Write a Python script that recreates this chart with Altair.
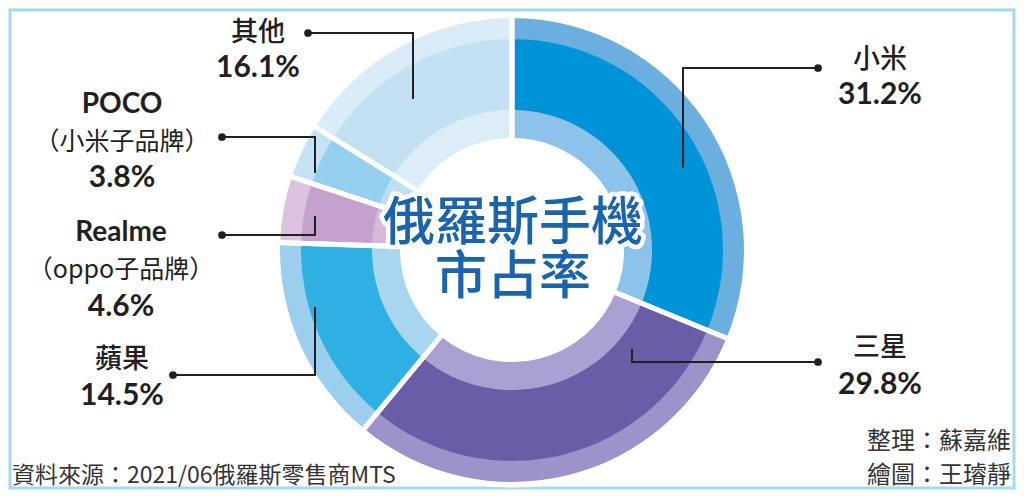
import altair as alt
import pandas as pd

# ---------------- data ----------------
brands = ["小米", "三星", "蘋果", "Realme", "POCO", "其他"]
shares = [31.2, 29.8, 14.5, 4.6, 3.8, 16.1]
name_lines = ["小米", "三星", "蘋果", "Realme", "POCO", "其他"]
sub_lines = ["", "", "", "（oppo子品牌）", "（小米子品牌）", ""]
title_lines = ["俄羅斯手機", "市占率"]
source_text = "資料來源：2021/06俄羅斯零售商MTS"
credit_lines = ["整理：蘇嘉維", "繪圖：王璿靜"]

# ---------------- styles ----------------
outer_colors = ["#6aafe0", "#9d92c9", "#9ccfee", "#dcc4e1", "#c4e4f5", "#daecf8"]
main_colors = ["#0093d7", "#6a5ca7", "#2eb0e3", "#c4a2cd", "#95d0f1", "#c3e1f3"]
inner_colors = ["#8dc3ea", "#aaa0d1", "#a8d6f0", "#d5b9db", "#bde0f4", "#dcedf8"]
INK = "#231f20"
TITLE_BLUE = "#1a64ae"
CJK = "Noto Sans CJK TC"
LAT = "Lato"

# ---------------- layout (pixel positions of annotations) ----------------
CX, CY = 502, 240
label_layout = {
    # brand: (text x, name y, sub y, pct y, dot x, dot y, elbow x, end y)
    "小米":   (870, 50, None, 85, 808, 58, 673, 157),
    "三星":   (870, 338, None, 375, 808, 352, 622, 340),
    "蘋果":   (112, 350, None, 386, 163, 365, 305, 298),
    "Realme": (111, 223, 260, 297, 212, 225, 305, 207),
    "POCO":   (112, 95, 132, 168, 212, 127, 305, 162),
    "其他":   (248, 23, None, 58, 298, 23, 403, 88),
}

df = pd.DataFrame({"brand": brands, "share": shares, "order": list(range(len(brands)))})

theta = alt.Theta("share:Q", stack=True)
order = alt.Order("order:Q", sort="ascending")


def ring(colors, r_out, r_in):
    return alt.Chart(df).mark_arc(radius=r_out, radius2=r_in).encode(
        theta=theta,
        order=order,
        color=alt.Color("brand:N", scale=alt.Scale(domain=brands, range=colors), legend=None),
        x=alt.value(CX),
        y=alt.value(CY),
    )


rings = alt.layer(
    ring(outer_colors, 232, 210.5),
    ring(main_colors, 211, 139.5),
    ring(inner_colors, 140, 112),
).resolve_scale(color="independent")

gaps = alt.Chart(df).mark_arc(
    radius=235, radius2=109, fillOpacity=0, stroke="white", strokeWidth=5
).encode(theta=theta, order=order, x=alt.value(CX), y=alt.value(CY))

# ---------------- labels ----------------
rows = []
segs = []
dots = []
for b, s, nm, sub in zip(brands, shares, name_lines, sub_lines):
    tx, ny, sy, py, dx, dy, ex, ey = label_layout[b]
    kind = "cjk" if all(ord(c) > 255 for c in nm) else "lat"
    rows.append({"t": nm, "x": tx, "y": ny, "kind": kind})
    if sub:
        rows.append({"t": sub, "x": tx, "y": sy, "kind": "sub"})
    rows.append({"t": f"{s:.1f}%", "x": tx, "y": py, "kind": "pct"})
    segs.append({"x": dx, "x2": ex, "y": dy, "y2": dy})
    segs.append({"x": ex, "x2": ex, "y": dy, "y2": ey})
    dots.append({"x": dx, "y": dy})
labels = pd.DataFrame(rows)
segs = pd.DataFrame(segs)
dots = pd.DataFrame(dots)

X = lambda f: alt.X(f"{f}:Q", scale=None, axis=None)
Y = lambda f: alt.Y(f"{f}:Q", scale=None, axis=None)

lines = alt.Chart(segs).mark_rule(color=INK, strokeWidth=2, strokeCap="square").encode(
    x=X("x"), x2="x2", y=Y("y"), y2="y2"
)
dot_layer = alt.Chart(dots).mark_circle(color=INK, size=60, opacity=1).encode(x=X("x"), y=Y("y"))


def text_layer(kind, font, size, weight):
    return alt.Chart(labels).transform_filter(alt.datum.kind == kind).mark_text(
        font=font, fontSize=size, fontWeight=weight, color=INK, baseline="middle", align="center"
    ).encode(x=X("x"), y=Y("y"), text="t:N")


t_cjk = text_layer("cjk", CJK, 27, 500)
t_lat = text_layer("lat", LAT, 28, "bold")
t_sub = text_layer("sub", CJK, 25, 400)
t_pct = text_layer("pct", LAT, 30, "bold")

# ---------------- centre title ----------------
title_df = pd.DataFrame({"t": title_lines, "x": [CX + 1, CX + 1], "y": [214, 268]})
title_halo = alt.Chart(title_df).mark_text(
    font=CJK, fontSize=52, fontWeight=500, color="white", stroke="white", strokeWidth=9,
    strokeJoin="round", baseline="middle"
).encode(x=X("x"), y=Y("y"), text="t:N")
title_txt = alt.Chart(title_df).mark_text(
    font=CJK, fontSize=52, fontWeight=500, color=TITLE_BLUE, baseline="middle"
).encode(x=X("x"), y=Y("y"), text="t:N")

# ---------------- footer ----------------
src_df = pd.DataFrame({"t": [source_text], "x": [2], "y": [466]})
src = alt.Chart(src_df).mark_text(
    font=CJK, fontSize=23, color="#333333", align="left", baseline="middle"
).encode(x=X("x"), y=Y("y"), text="t:N")
cred_df = pd.DataFrame({"t": credit_lines, "x": [1001, 1001], "y": [432, 466]})
cred = alt.Chart(cred_df).mark_text(
    font=CJK, fontSize=24, color="#333333", align="right", baseline="middle"
).encode(x=X("x"), y=Y("y"), text="t:N")

chart = alt.layer(
    rings, gaps, lines, dot_layer, t_cjk, t_lat, t_sub, t_pct,
    title_halo, title_txt, src, cred
).resolve_scale(color="independent").properties(
    width=1004, height=478,
    autosize=alt.AutoSizeParams(type="none"),
    padding={"left": 2, "top": 2, "right": 2, "bottom": 2},
    background="white",
).configure_view(stroke="#a6d8ee", strokeWidth=3)

chart.save("out.html", embed_options={"renderer": "svg", "actions": False})
